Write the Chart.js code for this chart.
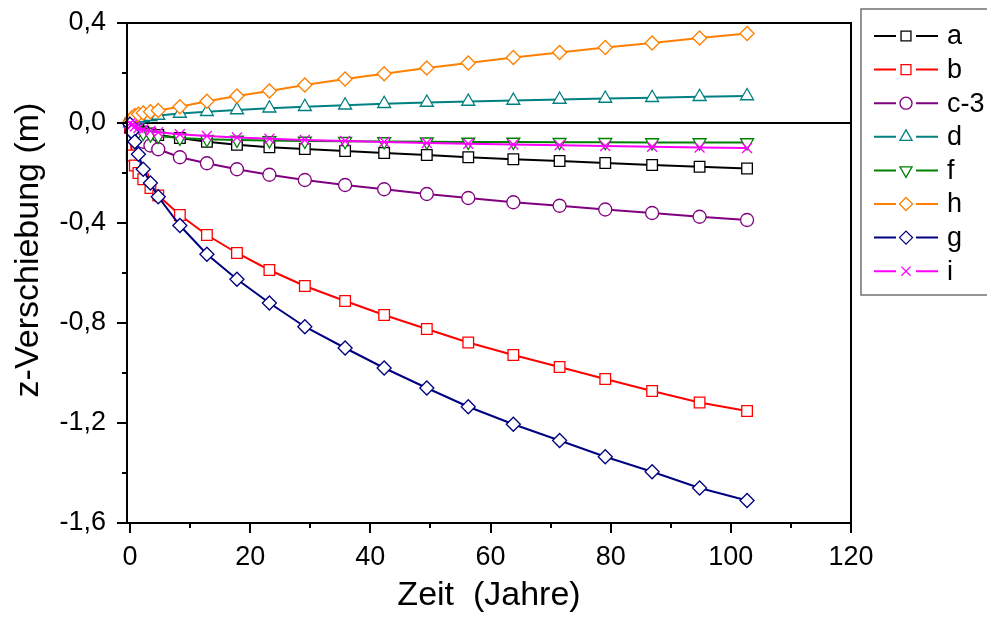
<!DOCTYPE html>
<html>
<head>
<meta charset="utf-8">
<script src="https://cdn.jsdelivr.net/npm/chart.js@4"></script>
<style>
    html, body { margin: 0; padding: 0; background: #fff; }
    #wrap { width: 987px; height: 617px; }
</style>
</head>
<body>
<div id="wrap"><canvas id="chart1"></canvas></div>
<script>
const chart1div = document.getElementById("chart1")

// Zeitpunkte (Jahre) und z-Verschiebung (m)
const years = [0, 0.3, 0.8, 1.4, 2.2, 3.4, 4.7, 8.3, 12.8, 17.8, 23.2, 29.1, 35.8, 42.3, 49.4, 56.3, 63.8, 71.5, 79.1, 86.9, 94.8, 102.7]
const seriesA = [-0.005, -0.012, -0.02, -0.028, -0.035, -0.042, -0.048, -0.06, -0.075, -0.087, -0.097, -0.104, -0.112, -0.12, -0.128, -0.137, -0.145, -0.152, -0.16, -0.168, -0.175, -0.182]
const seriesB = [-0.02, -0.13, -0.17, -0.2, -0.225, -0.26, -0.29, -0.368, -0.448, -0.52, -0.588, -0.652, -0.712, -0.768, -0.824, -0.878, -0.928, -0.976, -1.024, -1.072, -1.118, -1.152]
const seriesC3 = [-0.005, -0.02, -0.04, -0.06, -0.075, -0.09, -0.105, -0.137, -0.161, -0.185, -0.207, -0.228, -0.248, -0.265, -0.284, -0.3, -0.317, -0.331, -0.346, -0.36, -0.375, -0.388]
const seriesD = [0, 0.005, 0.01, 0.015, 0.02, 0.025, 0.03, 0.038, 0.045, 0.052, 0.059, 0.065, 0.071, 0.077, 0.082, 0.086, 0.09, 0.094, 0.098, 0.101, 0.105, 0.108]
const seriesF = [-0.005, -0.015, -0.025, -0.033, -0.04, -0.047, -0.052, -0.06, -0.065, -0.068, -0.07, -0.072, -0.073, -0.074, -0.075, -0.076, -0.076, -0.077, -0.077, -0.078, -0.078, -0.078]
const seriesH = [0.005, 0.02, 0.03, 0.035, 0.04, 0.045, 0.05, 0.065, 0.087, 0.108, 0.128, 0.152, 0.176, 0.197, 0.22, 0.24, 0.262, 0.282, 0.302, 0.32, 0.34, 0.358]
const seriesG = [-0.005, -0.035, -0.075, -0.125, -0.185, -0.24, -0.295, -0.41, -0.525, -0.625, -0.72, -0.815, -0.9, -0.98, -1.06, -1.135, -1.205, -1.27, -1.335, -1.395, -1.46, -1.51]
const seriesI = [-0.002, -0.008, -0.014, -0.02, -0.026, -0.032, -0.037, -0.045, -0.052, -0.058, -0.063, -0.068, -0.072, -0.076, -0.08, -0.083, -0.086, -0.089, -0.092, -0.095, -0.098, -0.1]

const seriesNames = ["a", "b", "c-3", "d", "f", "h", "g", "i"]
const seriesValues = [seriesA, seriesB, seriesC3, seriesD, seriesF, seriesH, seriesG, seriesI]

const xTickValues = [0, 20, 40, 60, 80, 100, 120]
const xTickLabels = ["0", "20", "40", "60", "80", "100", "120"]
const yTickValues = [0.4, 0, -0.4, -0.8, -1.2, -1.6]
const yTickLabels = ["0,4", "0,0", "-0,4", "-0,8", "-1,2", "-1,6"]

const colors = ["#000000", "#FF0000", "#800080", "#008080", "#008000", "#FF8000", "#000080", "#FF00FF"]
const pointStyles = ["rect", "rect", "circle", "triangle", "triangle", "rectRot", "rectRot", "crossRot"]
const pointRadii = [7.5, 7.5, 6.5, 7.5, 7.5, 7, 7, 7]
const pointRotations = [0, 0, 0, 0, 180, 0, 0, 0]

const FONT = "'Liberation Sans', Arial, sans-serif"

function tickLabel(value, values, labels) {
    const k = values.findIndex(v => Math.abs(v - value) < 1e-6)
    return k === -1 ? "" : labels[k]
}

const datasets = seriesNames.map((name, k) => ({
    label: name,
    data: years.map((t, j) => ({ x: t, y: seriesValues[k][j] })),
    borderColor: colors[k],
    backgroundColor: "#ffffff",
    borderWidth: 2,
    pointStyle: pointStyles[k],
    pointRadius: pointRadii[k],
    pointRotation: pointRotations[k],
    pointBorderColor: colors[k],
    pointBackgroundColor: "#ffffff",
    pointBorderWidth: 1.3,
    tension: 0,
    clip: false,
    order: -k
}))

// Achsenrahmen, Ticks, y-Titel und Legende (Origin-Stil)
const originStyle = {
    id: "originStyle",
    beforeDatasetsDraw(chart) {
        const { ctx, chartArea: ca, scales: { y } } = chart
        const y0 = y.getPixelForValue(0)
        ctx.save()
        ctx.strokeStyle = "#000"
        ctx.lineWidth = 2
        ctx.beginPath()
        ctx.moveTo(ca.left, y0)
        ctx.lineTo(ca.right, y0)
        ctx.stroke()
        ctx.restore()
    },
    afterDraw(chart) {
        const { ctx, chartArea: ca, scales: { x, y } } = chart
        ctx.save()
        ctx.strokeStyle = "#000"
        ctx.lineWidth = 2
        ctx.strokeRect(ca.left, ca.top, ca.right - ca.left, ca.bottom - ca.top)

        ctx.beginPath()
        y.ticks.forEach(t => {
            const py = Math.round(y.getPixelForValue(t.value))
            const len = tickLabel(t.value, yTickValues, yTickLabels) ? 10 : 5
            ctx.moveTo(ca.left - len, py)
            ctx.lineTo(ca.left, py)
        })
        x.ticks.forEach(t => {
            const px = Math.round(x.getPixelForValue(t.value))
            const len = tickLabel(t.value, xTickValues, xTickLabels) ? 10 : 5
            ctx.moveTo(px, ca.bottom)
            ctx.lineTo(px, ca.bottom + len)
        })
        ctx.stroke()

        // y-Achsentitel
        ctx.fillStyle = "#000"
        ctx.font = "34px " + FONT
        ctx.textAlign = "center"
        ctx.textBaseline = "middle"
        ctx.translate(29, (ca.top + ca.bottom) / 2 - 23)
        ctx.rotate(-Math.PI / 2)
        ctx.fillText("z-Verschiebung (m)", 0, 0)
        ctx.setTransform(1, 0, 0, 1, 0, 0)

        // Legende
        const boxLeft = ca.right + 10
        const boxTop = 9
        ctx.strokeStyle = "#707070"
        ctx.lineWidth = 1.5
        ctx.strokeRect(boxLeft, boxTop, 200, 286)
        ctx.font = "27px " + FONT
        ctx.textAlign = "left"
        chart.data.datasets.forEach((ds, k) => {
            const ly = 36 + k * 33.6
            ctx.strokeStyle = ds.borderColor
            ctx.lineWidth = 2
            ctx.beginPath()
            ctx.moveTo(boxLeft + 13, ly)
            ctx.lineTo(boxLeft + 35, ly)
            ctx.moveTo(boxLeft + 55, ly)
            ctx.lineTo(boxLeft + 77, ly)
            ctx.stroke()
            ctx.fillStyle = "#fff"
            ctx.lineWidth = 1.3
            Chart.helpers.drawPoint(ctx, {
                pointStyle: ds.pointStyle,
                rotation: ds.pointRotation,
                radius: ds.pointRadius - 0.5,
                borderWidth: 1.3
            }, boxLeft + 45, ly)
            ctx.fillStyle = "#000"
            ctx.fillText(ds.label, boxLeft + 86, ly + 1)
        })
        ctx.restore()
    }
}

function fixScale(s, w, h) {
    if (w) s.width = w
    if (h) s.height = h
    s.paddingTop = 0
    s.paddingBottom = 0
    s.paddingLeft = 0
    s.paddingRight = 0
}

new Chart(chart1div, {
    type: "line",
    data: { datasets: datasets },
    options: {
        responsive: true,
        maintainAspectRatio: false,
        animation: false,
        layout: { padding: { top: 23, right: 136, left: 0, bottom: 0 } },
        plugins: {
            legend: { display: false },
            tooltip: { enabled: false }
        },
        scales: {
            x: {
                type: "linear",
                min: -0.5,
                max: 120,
                grid: { display: false },
                border: { display: false },
                afterFit: s => fixScale(s, 0, 94),
                ticks: {
                    stepSize: 10,
                    includeBounds: false,
                    autoSkip: false,
                    maxRotation: 0,
                    padding: 10,
                    color: "#000",
                    font: { family: FONT, size: 27 },
                    callback: v => tickLabel(v, xTickValues, xTickLabels)
                },
                title: {
                    display: true,
                    text: "Zeit  (Jahre)",
                    color: "#000",
                    font: { family: FONT, size: 34 },
                    padding: { top: 0, bottom: 1 }
                }
            },
            y: {
                type: "linear",
                min: -1.6,
                max: 0.4,
                grid: { display: false },
                border: { display: false },
                afterFit: s => fixScale(s, 127, 0),
                ticks: {
                    stepSize: 0.2,
                    autoSkip: false,
                    padding: 13,
                    color: "#000",
                    font: { family: FONT, size: 27 },
                    callback: v => tickLabel(v, yTickValues, yTickLabels)
                }
            }
        }
    },
    plugins: [originStyle]
})
</script>
</body>
</html>
